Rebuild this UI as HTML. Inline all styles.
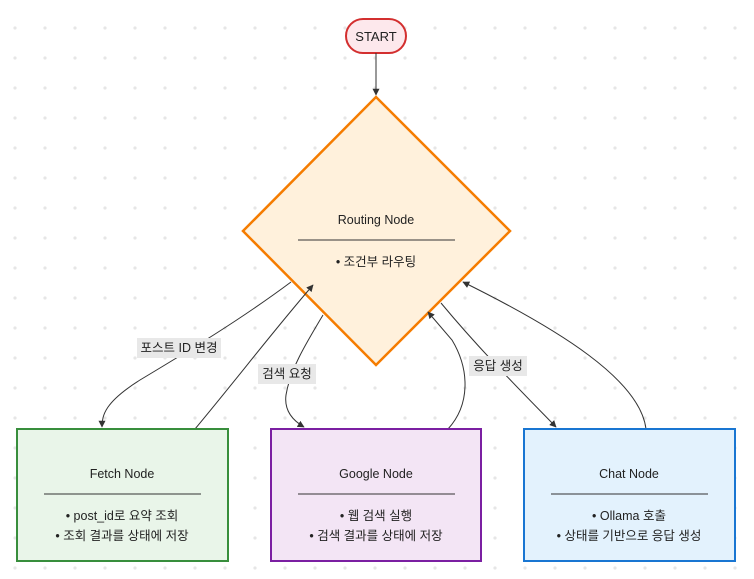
<!DOCTYPE html>
<html><head><meta charset="utf-8"><style>
body{margin:0;background:#fff}
svg{display:block}
text{font-family:"Liberation Sans","Noto Sans CJK KR",sans-serif;font-size:12.5px;fill:#222}
</style></head><body>
<svg width="754" height="579" viewBox="0 0 754 579" xmlns="http://www.w3.org/2000/svg">
<defs>
<pattern id="dots" x="0" y="0" width="30" height="30" patternUnits="userSpaceOnUse">
<circle cx="15" cy="28" r="1.6" fill="#e6e6e6"/>
</pattern>
<marker id="ar" viewBox="0 0 10 10" refX="9" refY="5" markerWidth="7" markerHeight="7" orient="auto-start-reverse">
<path d="M0,0 L10,5 L0,10 z" fill="#333"/>
</marker>
</defs>
<rect width="754" height="579" fill="url(#dots)"/>
<rect x="346" y="19" width="60" height="34" rx="17" fill="#fde8ec" stroke="#d32f2f" stroke-width="2"/>
<text x="376" y="41" text-anchor="middle" style="font-size:13px">START</text>
<polygon points="376,97 510,231 376,365 243,231" fill="#fff1dc" stroke="#f57c00" stroke-width="2.5"/>
<text x="376" y="224" text-anchor="middle">Routing Node</text>
<line x1="298" y1="240" x2="455" y2="240" stroke="#333"/>
<text x="376" y="266" text-anchor="middle">• 조건부 라우팅</text>
<g fill="none" stroke="#333" stroke-width="1">
<path d="M376,53 L376,95" marker-end="url(#ar)"/>
<path d="M291,282 C240,320 190,350 140,380 C105,402 102,415 102,427" marker-end="url(#ar)"/>
<path d="M195,429 C240,375 270,335 313,285" marker-end="url(#ar)"/>
<path d="M323,315 C305,345 290,370 286,395 C284,410 292,420 304,427" marker-end="url(#ar)"/>
<path d="M448,429 C470,405 470,370 452,340 L428,312" marker-end="url(#ar)"/>
<path d="M441,303 C480,350 520,390 556,427" marker-end="url(#ar)"/>
<path d="M646,429 C640,380 560,330 463,282" marker-end="url(#ar)"/>
</g>
<g>
<rect x="137" y="338" width="84" height="20" fill="#e8e8e8"/><text x="179" y="352" text-anchor="middle">포스트 ID 변경</text>
<rect x="258" y="364" width="58" height="20" fill="#e8e8e8"/><text x="287" y="378" text-anchor="middle">검색 요청</text>
<rect x="469" y="356" width="58" height="20" fill="#e8e8e8"/><text x="498" y="370" text-anchor="middle">응답 생성</text>
</g>
<rect x="17" y="429" width="211" height="132" fill="#e9f5e9" stroke="#388e3c" stroke-width="2"/>
<text x="122" y="478" text-anchor="middle">Fetch Node</text>
<line x1="44" y1="494" x2="201" y2="494" stroke="#333"/>
<text x="122" y="520" text-anchor="middle">• post_id로 요약 조회</text>
<text x="122" y="540" text-anchor="middle">• 조회 결과를 상태에 저장</text>
<rect x="271" y="429" width="210" height="132" fill="#f3e5f5" stroke="#7b1fa2" stroke-width="2"/>
<text x="376" y="478" text-anchor="middle">Google Node</text>
<line x1="298" y1="494" x2="455" y2="494" stroke="#333"/>
<text x="376" y="520" text-anchor="middle">• 웹 검색 실행</text>
<text x="376" y="540" text-anchor="middle">• 검색 결과를 상태에 저장</text>
<rect x="524" y="429" width="211" height="132" fill="#e3f2fd" stroke="#1976d2" stroke-width="2"/>
<text x="629" y="478" text-anchor="middle">Chat Node</text>
<line x1="551" y1="494" x2="708" y2="494" stroke="#333"/>
<text x="629" y="520" text-anchor="middle">• Ollama 호출</text>
<text x="629" y="540" text-anchor="middle">• 상태를 기반으로 응답 생성</text>
</svg>
</body></html>
